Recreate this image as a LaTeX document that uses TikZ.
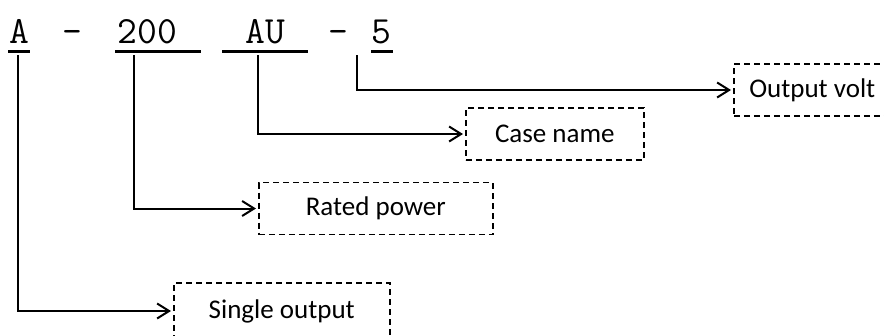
\documentclass[tikz,border=0pt]{standalone}
\usepackage{fontspec}
\setmainfont{Carlito}
\usetikzlibrary{arrows.meta}
\begin{document}
\begin{tikzpicture}[x=1pt,y=-1pt,
  code/.style={font=\ttfamily\fontsize{38.5}{38.5}\selectfont, inner sep=0pt, anchor=base},
  uline/.style={line width=3pt},
  conn/.style={line width=2pt, -{Straight Barb[length=12pt,width=15pt,line width=2pt]}, shorten >=2pt},
  lbl/.style={draw, dashed, dash pattern=on 6pt off 4pt, line width=1.6pt, font=\fontsize{27}{27}\selectfont,
    minimum height=52pt, inner sep=0pt, anchor=west}]
\useasboundingbox (0,0) rectangle (884,335);
% top code
\node[code] (tA) at (19,43.5) {A};
\node[code] (td1) at (72,43.5) {-};
\node[code] (t200) at (147.5,43.5) {200};
\node[code] (tAU) at (265,43.5) {AU};
\node[code] (td2) at (338.5,43.5) {-};
\node[code] (t5) at (381.5,43.5) {5};
% underlines
\draw[uline] (8,51.5) -- (30,51.5);
\draw[uline] (115,51.5) -- (201,51.5);
\draw[uline] (222,51.5) -- (308,51.5);
\draw[uline] (371,51.5) -- (393,51.5);
% anchor points
\coordinate (cA) at (18,55);
\coordinate (c200) at (134,55);
\coordinate (cAU) at (258,55);
\coordinate (c5) at (357,55);
% boxes
\node[lbl, minimum width=216pt, minimum height=56pt] (single) at (173,311) {Single output};
\node[lbl, minimum width=234pt] (rated) at (258,208.5) {Rated power};
\node[lbl, minimum width=178pt] (case) at (465,134) {Case name};
\node[lbl, minimum width=157pt] (volt) at (733,90) {Output volt};
% connectors
\draw[conn] (cA) |- (single.west);
\draw[conn] (c200) |- (rated.west);
\draw[conn] (cAU) |- (case.west);
\draw[conn] (c5) |- (volt.west);
\end{tikzpicture}
\end{document}
